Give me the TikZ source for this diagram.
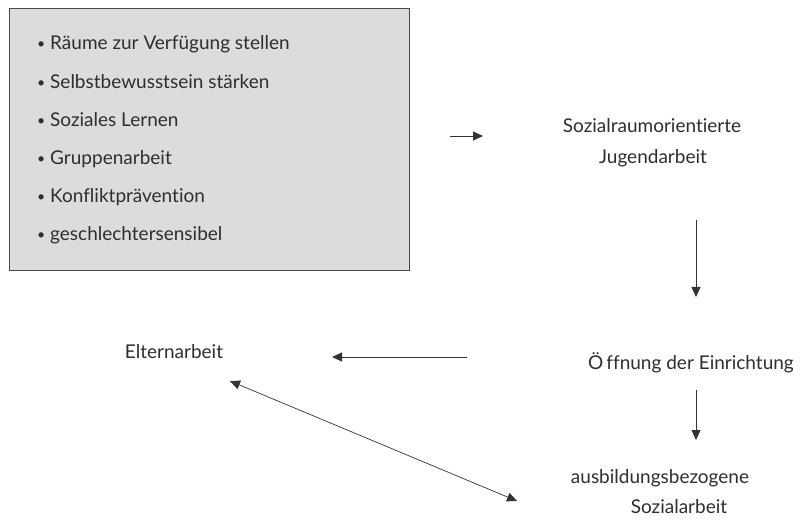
\documentclass[tikz,border=0pt]{standalone}
\usepackage{fontspec}
\setmainfont{Lato}[Ligatures={NoCommon}]
\usetikzlibrary{arrows.meta}
\definecolor{txt}{HTML}{2E2E2E}
\definecolor{boxfill}{HTML}{DCDCDE}
\definecolor{boxline}{HTML}{474747}
\definecolor{arrcol}{HTML}{333333}
\tikzset{
  lbl/.style={inner sep=0pt, anchor=base, text=txt, font=\fontsize{19}{22}\selectfont},
  item/.style={inner sep=0pt, anchor=base west, text=txt, font=\fontsize{19}{22}\selectfont},
  panel/.style={draw=boxline, line width=1pt, fill=boxfill, minimum width=400pt, minimum height=262pt, inner sep=0pt},
  arr/.style={draw=arrcol, line width=0.9pt, -{Triangle[length=10pt,width=9pt]}},
  dbl/.style={draw=arrcol, line width=0.7pt, {Triangle[length=10pt,width=9pt]}-{Triangle[length=10pt,width=9pt]}}
}
\newcommand{\bul}{\makebox[13pt][l]{\fontsize{14}{16}\selectfont\raisebox{1pt}{•}}}
\begin{document}
\begin{tikzpicture}[x=1pt,y=-1pt]
\useasboundingbox (0,0) rectangle (801,529);
\node[panel] (box) at (209,140) {};
\node[item] (i1) at (37,50) {\bul Räume zur Verfügung stellen};
\node[item] (i2) at (37,89) {\bul Selbstbewusstsein stärken};
\node[item] (i3) at (37,127) {\bul Soziales Lernen};
\node[item] (i4) at (37,165) {\bul Gruppenarbeit};
\node[item] (i5) at (37,203) {\bul Konfliktprävention};
\node[item] (i6) at (37,241) {\bul geschlechtersensibel};
\node[lbl] (s1) at (652,133) {Sozialraumorientierte};
\node[lbl] (s2) at (653,164) {Jugendarbeit};
\node[lbl] (eltern) at (174,359) {Elternarbeit};
\node[lbl] (oeff) at (691,370) {Ö\hspace{3pt}ffnung der Einrichtung};
\node[lbl] (aus1) at (660,483) {ausbildungsbezogene};
\node[lbl] (aus2) at (679,513) {Sozialarbeit};
\coordinate (a1s) at (450,136);
\coordinate (a1e) at (483,136);
\coordinate (a2s) at (696,220);
\coordinate (a2e) at (696,297);
\coordinate (a3s) at (467,357);
\coordinate (a3e) at (332,357);
\coordinate (a4s) at (696,390);
\coordinate (a4e) at (696,440);
\coordinate (a5s) at (230,381);
\coordinate (a5e) at (517,501);
\draw[arr] (a1s) -- (a1e);
\draw[arr] (a2s) -- (a2e);
\draw[arr] (a3s) -- (a3e);
\draw[arr] (a4s) -- (a4e);
\draw[dbl] (a5s) -- (a5e);
\end{tikzpicture}
\end{document}
